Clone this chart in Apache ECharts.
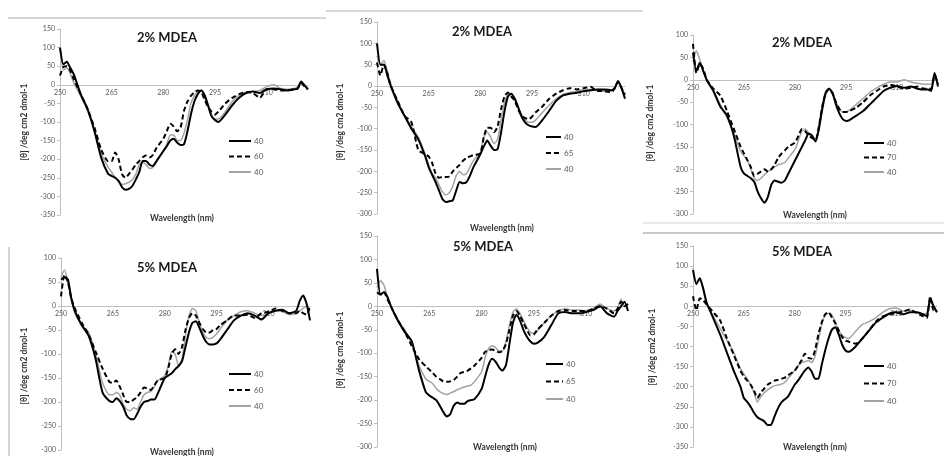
<!DOCTYPE html>
<html>
<head>
<meta charset="utf-8">
<script src="https://cdn.jsdelivr.net/npm/echarts@6.0.0/dist/echarts.min.js"></script>
<style>
  html, body { margin: 0; padding: 0; background: #fff; }
  #main { width: 944px; height: 456px; }
</style>
</head>
<body>
<div id="main"></div>
<script type="text/javascript">
// wavelength (nm) shared by every curve
var wl = [250, 251, 252, 253, 254, 256, 258, 260, 262, 264,
  265, 266, 267, 268, 269, 270, 271, 272, 273, 274, 275, 276, 277, 278,
  280, 281, 282, 283, 284, 285, 286, 287, 288, 289, 290, 291, 292, 293, 294, 295, 296,
  298, 300, 302, 304, 306, 308, 310, 312, 314, 316, 318, 319, 320, 321, 322];

// [θ] values, one array per curve
// top row: 2% MDEA
var p1Black = [100, 55, 62, 45, 28, -25, -65, -125, -197, -240,
  -245, -250, -258, -275, -282, -280, -272, -255, -235, -205, -205, -215, -218, -205,
  -178, -165, -150, -145, -155, -162, -160, -125, -80, -45, -25, -15, -28, -55, -85, -95, -100,
  -80, -55, -35, -22, -18, -22, -12, -10, -12, -15, -12, -10, 8, -2, -12];
var p1Dash = [25, 48, 50, 38, 15, -25, -65, -115, -175, -205,
  -205, -182, -200, -240, -250, -240, -228, -215, -205, -195, -190, -195, -188, -170,
  -145, -125, -105, -112, -125, -115, -70, -45, -30, -20, -15, -20, -40, -60, -72, -80, -72,
  -50, -35, -25, -20, -22, -35, -12, -12, -15, -15, -12, -10, 5, -5, -12];
var p1Gray = [100, 40, 45, 30, 5, -30, -70, -120, -185, -222,
  -235, -248, -262, -268, -266, -262, -255, -240, -215, -208, -215, -225, -222, -208,
  -178, -160, -135, -135, -150, -150, -130, -95, -50, -30, -18, -15, -35, -60, -80, -92, -92,
  -72, -45, -28, -20, -18, -15, -5, 0, -10, -12, -10, -5, 10, 0, -10];

var p2Black = [100, 50, 50, 25, 0, -40, -70, -100, -125, -165,
  -190, -208, -225, -245, -265, -272, -270, -268, -245, -225, -228, -225, -210, -190,
  -160, -142, -128, -140, -150, -148, -110, -60, -25, -18, -30, -50, -72, -85, -92, -95, -96,
  -80, -58, -35, -22, -18, -16, -12, -10, -8, -8, -10, -5, 12, -5, -30];
var p2Dash = [55, 25, 50, 30, 0, -35, -70, -85, -150, -160,
  -165, -180, -205, -215, -213, -213, -212, -200, -192, -185, -175, -168, -165, -162,
  -158, -120, -98, -98, -108, -95, -55, -25, -15, -25, -35, -55, -70, -75, -78, -72, -62,
  -48, -30, -18, -10, -5, -8, -5, -2, -12, -12, -15, -5, 10, -5, -20];
var p2Gray = [70, 50, 60, 35, 5, -35, -70, -95, -120, -160,
  -185, -205, -215, -232, -248, -255, -250, -235, -210, -200, -208, -205, -190, -175,
  -155, -120, -108, -120, -135, -125, -80, -40, -20, -18, -30, -50, -68, -80, -85, -85, -80,
  -62, -45, -30, -20, -15, -12, -8, -8, -8, -12, -12, -5, 8, -5, -20];

var p3Black = [60, 20, 38, 20, 0, -25, -60, -80, -125, -195,
  -210, -215, -220, -228, -250, -265, -275, -262, -235, -225, -228, -230, -225, -210,
  -180, -165, -150, -135, -120, -125, -138, -110, -65, -30, -20, -30, -55, -75, -88, -92, -90,
  -80, -70, -55, -40, -25, -18, -14, -18, -15, -20, -22, -22, -25, 15, -15];
var p3Dash = [80, 15, 35, 25, 0, -20, -35, -70, -110, -150,
  -165, -180, -195, -215, -210, -205, -200, -205, -200, -190, -175, -165, -158, -150,
  -140, -125, -110, -115, -125, -130, -135, -105, -60, -30, -20, -30, -50, -65, -72, -72, -70,
  -62, -50, -35, -25, -15, -12, -15, -20, -18, -15, -20, -20, -20, 10, -10];
var p3Gray = [40, 65, 45, 20, 0, -25, -55, -85, -120, -160,
  -170, -180, -200, -220, -225, -220, -212, -205, -200, -195, -190, -188, -185, -175,
  -155, -135, -115, -110, -120, -130, -135, -100, -55, -25, -20, -30, -50, -65, -72, -72, -68,
  -55, -42, -28, -18, -10, -5, -5, 0, -5, -8, -10, -10, -10, 15, -10];

// bottom row: 5% MDEA
var p4Black = [55, 60, 55, 15, -10, -40, -62, -110, -180, -198,
  -200, -192, -198, -210, -228, -235, -236, -225, -210, -200, -198, -195, -195, -182,
  -150, -145, -140, -132, -125, -115, -85, -55, -35, -32, -45, -62, -75, -80, -80, -78, -70,
  -50, -30, -20, -15, -20, -28, -15, -10, -8, -15, -10, 10, 22, 5, -30];
var p4Dash = [20, 65, 50, 15, -5, -35, -60, -95, -130, -158,
  -160, -155, -168, -185, -200, -200, -195, -190, -180, -170, -172, -175, -165, -155,
  -150, -130, -100, -90, -100, -85, -50, -25, -15, -20, -35, -48, -55, -55, -50, -48, -40,
  -30, -20, -20, -18, -25, -15, -12, -5, -10, -15, -15, -10, -15, -18, 0];
var p4Gray = [60, 75, 50, 15, -15, -40, -55, -100, -160, -185,
  -185, -180, -185, -205, -215, -218, -212, -215, -200, -185, -180, -178, -168, -155,
  -145, -125, -95, -100, -125, -110, -60, -20, -5, -10, -35, -55, -65, -68, -65, -58, -48,
  -30, -20, -12, -10, -15, -20, -15, -10, -12, -18, -15, -10, -5, 0, -10];

var p5Black = [80, 25, 30, 20, 0, -30, -55, -75, -135, -183,
  -190, -195, -200, -212, -225, -235, -230, -212, -205, -208, -208, -202, -200, -198,
  -176, -150, -125, -112, -118, -130, -137, -125, -80, -35, -18, -30, -50, -65, -75, -80, -78,
  -65, -40, -15, -12, -15, -15, -12, -8, 0, -15, -22, -10, 0, 10, -10];
var p5Dash = [30, 25, 30, 15, 0, -30, -55, -85, -112, -128,
  -135, -142, -150, -155, -160, -161, -160, -157, -150, -142, -140, -137, -132, -126,
  -110, -97, -93, -92, -95, -98, -95, -80, -50, -20, -10, -20, -35, -50, -62, -60, -50,
  -35, -20, -10, -8, -10, -10, -10, -5, 0, -5, -15, -5, 10, 0, 5];
var p5Gray = [40, 55, 45, 20, 0, -30, -50, -80, -125, -155,
  -160, -165, -175, -182, -186, -188, -185, -182, -178, -175, -172, -170, -168, -160,
  -140, -110, -90, -84, -88, -95, -95, -75, -40, -12, -5, -15, -30, -45, -55, -58, -52,
  -35, -20, -10, -5, -8, -8, -10, -5, 5, -5, -10, -5, 15, 0, 5];

var p6Black = [90, 55, 70, 45, 10, -30, -70, -115, -160, -200,
  -228, -238, -250, -265, -276, -281, -286, -295, -295, -275, -255, -240, -232, -225,
  -195, -185, -172, -160, -152, -162, -180, -180, -145, -110, -80, -58, -52, -70, -95, -110, -113,
  -100, -80, -60, -40, -28, -18, -15, -20, -15, -15, -20, -25, 20, 0, -15];
var p6Dash = [25, -10, 20, 15, 5, -15, -35, -80, -120, -160,
  -175, -185, -195, -210, -228, -215, -205, -195, -190, -185, -183, -180, -178, -172,
  -160, -148, -135, -118, -128, -130, -110, -70, -40, -20, -15, -28, -42, -60, -76, -85, -88,
  -93, -80, -59, -38, -25, -20, -17, -13, -8, -17, -25, -29, 25, -10, -10];
var p6Gray = [95, 60, 70, 40, 5, -25, -55, -85, -115, -155,
  -168, -180, -195, -215, -238, -225, -215, -208, -202, -198, -196, -194, -190, -180,
  -160, -148, -140, -138, -135, -140, -125, -85, -45, -22, -17, -22, -40, -60, -72, -78, -80,
  -62, -45, -38, -28, -15, -6, -4, -12, -10, -15, -20, -15, 10, 0, -15];

var panelTitles = ['2% MDEA', '2% MDEA', '2% MDEA', '5% MDEA', '5% MDEA', '5% MDEA'];
var dashNames = ['60', '65', '70', '60', '65', '70'];
var yMin = [-350, -300, -300, -300, -300, -350];
var yMax = [150, 150, 100, 100, 150, 150];
var xTicks = [250, 265, 280, 295, 310];

var curves = [
  [p1Black, p1Dash, p1Gray], [p2Black, p2Dash, p2Gray], [p3Black, p3Dash, p3Gray],
  [p4Black, p4Dash, p4Gray], [p5Black, p5Dash, p5Gray], [p6Black, p6Dash, p6Gray]
];

// layout of the six plots (pixels)
var grids = [
  {left: 60, top: 29, width: 248, height: 186},
  {left: 377, top: 22, width: 248, height: 192},
  {left: 693, top: 35, width: 245, height: 179},
  {left: 61, top: 258, width: 249, height: 192},
  {left: 377, top: 236, width: 251, height: 211},
  {left: 693, top: 246, width: 244, height: 201}
];
var legendPos = [
  {left: 228, top: 137, w: 22, gap: 7.5},
  {left: 545, top: 133, w: 15, gap: 8},
  {left: 863, top: 139, w: 20, gap: 6.5},
  {left: 228, top: 370, w: 22, gap: 8},
  {left: 545, top: 360, w: 17, gap: 9.5},
  {left: 863, top: 362, w: 20, gap: 9.5}
];
var titlePos = [[167, 38], [482, 32], [802, 43], [167, 268], [483, 247], [802, 252]];
var yNamePos = [[24, 122], [340, 122], [650, 123], [24, 366], [340, 350], [652, 347]];
var xNamePos = [[182, 218], [502, 228], [815, 215], [182, 452], [505, 447], [815, 447]];

var font = 'Lato, "Open Sans", sans-serif';
var myChart = echarts.init(document.getElementById('main'));

var xAxes = [], yAxes = [], series = [], legends = [], graphics = [];
for (var i = 0; i < 6; i++) {
  // the x axis (line and labels) sits on the zero line
  var zeroOffset = -grids[i].height * (0 - yMin[i]) / (yMax[i] - yMin[i]);
  xAxes.push({
    gridIndex: i, type: 'value', min: 250, max: 322,
    position: 'bottom', offset: zeroOffset,
    axisLine: {onZero: false, lineStyle: {color: '#bfbfbf', width: 1}},
    axisTick: {show: false},
    splitLine: {show: false},
    axisLabel: {customValues: xTicks, fontSize: 7, color: '#595959', fontFamily: font, margin: 4}
  });
  yAxes.push({
    gridIndex: i, type: 'value', min: yMin[i], max: yMax[i], interval: 50,
    axisLine: {show: true, onZero: false, lineStyle: {color: '#bfbfbf', width: 1}},
    axisTick: {show: true, length: 3, lineStyle: {color: '#bfbfbf'}},
    splitLine: {show: false},
    axisLabel: {fontSize: 7, color: '#595959', fontFamily: font, margin: 5}
  });
  var names = ['40', dashNames[i], '40 '];
  var styles = [
    {color: '#000000', width: 2, type: 'solid'},
    {color: '#000000', width: 2, type: [5, 3]},
    {color: '#a3a3a3', width: 1.5, type: 'solid'}
  ];
  for (var k = 0; k < 3; k++) {
    var arr = curves[i][k];
    series.push({
      name: names[k], type: 'line', xAxisIndex: i, yAxisIndex: i,
      symbol: 'none', smooth: 0.2, z: k === 2 ? 1 : 2,
      lineStyle: styles[k], itemStyle: {color: styles[k].color},
      data: wl.map(function (w, j) { return [w, arr[j]]; })
    });
  }
  legends.push({
    orient: 'vertical', left: legendPos[i].left, top: legendPos[i].top,
    itemWidth: legendPos[i].w, itemHeight: 10, itemGap: legendPos[i].gap,
    padding: 0, selectedMode: false,
    itemStyle: {opacity: 0},
    textStyle: {fontSize: 8, color: '#595959', fontFamily: font, padding: [0, 0, 0, -2]},
    data: names
  });
  graphics.push({
    type: 'text', x: titlePos[i][0], y: titlePos[i][1],
    style: {text: panelTitles[i], font: 'bold 13px ' + font, fill: '#1a1a1a', align: 'center', verticalAlign: 'middle'}
  });
  graphics.push({
    type: 'text', x: yNamePos[i][0], y: yNamePos[i][1], rotation: Math.PI / 2,
    style: {text: '[θ] /deg cm2 dmol-1', font: 'bold 8.5px ' + font, fill: '#333', align: 'center', verticalAlign: 'middle'}
  });
  graphics.push({
    type: 'text', x: xNamePos[i][0], y: xNamePos[i][1],
    style: {text: 'Wavelength (nm)', font: 'bold 8.5px ' + font, fill: '#333', align: 'center', verticalAlign: 'middle'}
  });
}

// leftover frame edges of the pasted figures
var edges = [
  [8, 18, 326, 18, 1.5], [326, 11, 643, 11, 1.5],
  [643, 223, 944, 223, 0.8], [643, 233, 944, 233, 2], [9, 247, 9, 456, 1.5]
];
edges.forEach(function (e) {
  graphics.push({type: 'line', shape: {x1: e[0], y1: e[1], x2: e[2], y2: e[3]},
    style: {stroke: '#c8c8c8', lineWidth: e[4]}});
});

var option = {
  animation: false,
  backgroundColor: '#ffffff',
  grid: grids,
  xAxis: xAxes,
  yAxis: yAxes,
  legend: legends,
  series: series,
  graphic: graphics
};
myChart.setOption(option);
</script>
</body>
</html>
